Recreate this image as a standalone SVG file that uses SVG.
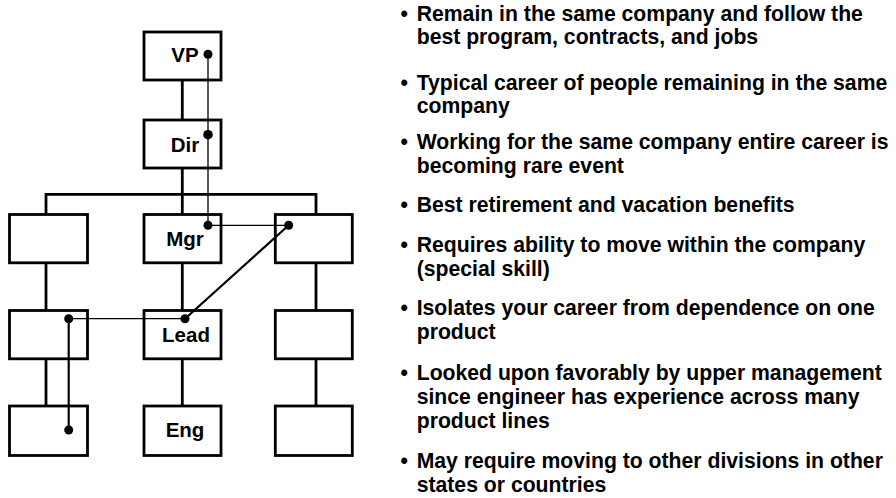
<svg xmlns="http://www.w3.org/2000/svg" width="896" height="498" viewBox="0 0 896 498">
  <style>
    .box { fill: #fff; stroke: #000; stroke-width: 2.8; }
    .tree { fill: none; stroke: #000; stroke-width: 2.8; }
    .path-thin { fill: none; stroke: #000; stroke-width: 1.3; }
    .path-bold { fill: none; stroke: #000; stroke-width: 2.2; }
    .dot { fill: #000; }
    .lbl { font-family: "Liberation Sans", Arial, sans-serif; font-weight: bold; font-size: 20.5px; fill: #000; text-anchor: middle; }
    .bul { font-family: "Liberation Sans", Arial, sans-serif; font-weight: bold; font-size: 21.2px; fill: #000; }
  </style>

  <!-- org chart tree lines -->
  <g id="connectors">
    <line class="tree" x1="182.3" y1="80" x2="182.3" y2="120"/>
    <line class="tree" x1="182.3" y1="168" x2="182.3" y2="214.5"/>
    <polyline class="tree" points="46,214.5 46,194.3 316,194.3 316,214.5"/>
    <line class="tree" x1="46" y1="262.8" x2="46" y2="310.5"/>
    <line class="tree" x1="182.3" y1="262.8" x2="182.3" y2="310.5"/>
    <line class="tree" x1="316" y1="262.8" x2="316" y2="310.5"/>
    <line class="tree" x1="46" y1="358.8" x2="46" y2="406"/>
    <line class="tree" x1="182.3" y1="358.8" x2="182.3" y2="406"/>
    <line class="tree" x1="316" y1="358.8" x2="316" y2="406"/>
  </g>

  <!-- positions -->
  <g id="vp"><rect class="box" x="144" y="32" width="77" height="48"/><text class="lbl" x="185" y="62">VP</text></g>
  <g id="dir"><rect class="box" x="144" y="120" width="77" height="48"/><text class="lbl" x="185" y="152">Dir</text></g>
  <g id="r2-left"><rect class="box" x="9.5" y="214.5" width="78" height="48.3"/></g>
  <g id="mgr"><rect class="box" x="144" y="214.5" width="77" height="48.3"/><text class="lbl" x="185" y="246">Mgr</text></g>
  <g id="r2-right"><rect class="box" x="275.3" y="214.5" width="77" height="48.3"/></g>
  <g id="r3-left"><rect class="box" x="9.5" y="310.5" width="78" height="48.3"/></g>
  <g id="lead"><rect class="box" x="144" y="310.5" width="77" height="48.3"/><text class="lbl" x="186" y="342">Lead</text></g>
  <g id="r3-right"><rect class="box" x="275.3" y="310.5" width="77" height="48.3"/></g>
  <g id="r4-left"><rect class="box" x="9.5" y="406" width="78" height="49.5"/></g>
  <g id="eng"><rect class="box" x="144" y="406" width="77" height="49.5"/><text class="lbl" x="185" y="437">Eng</text></g>
  <g id="r4-right"><rect class="box" x="275.3" y="406" width="77" height="49.5"/></g>

  <!-- career path across the company -->
  <g id="career-path">
    <polyline class="path-thin" points="208,54.3 208,225.3 288.7,225.3"/>
    <line class="path-bold" x1="288.7" y1="225.3" x2="185" y2="318.7"/>
    <line class="path-thin" x1="185" y1="318.7" x2="68.7" y2="318.7"/>
    <line class="path-bold" x1="68.7" y1="318.7" x2="68.7" y2="430"/>
    <circle class="dot" cx="208" cy="54.3" r="4.5"/>
    <circle class="dot" cx="208" cy="134.7" r="4.8"/>
    <circle class="dot" cx="208" cy="225.3" r="4.5"/>
    <circle class="dot" cx="288.7" cy="225.3" r="4.5"/>
    <circle class="dot" cx="185" cy="318.7" r="4.5"/>
    <circle class="dot" cx="68.7" cy="318.7" r="4.5"/>
    <circle class="dot" cx="68.7" cy="430" r="4.5"/>
  </g>

  <!-- bullet list -->
  <g id="notes" class="bul">
    <text><tspan x="400.5" y="20.5">•</tspan><tspan x="416.7" y="20.5">Remain in the same company and follow the</tspan><tspan x="416.7" y="44">best program, contracts, and jobs</tspan></text>
    <text><tspan x="400.5" y="90">•</tspan><tspan x="416.7" y="90">Typical career of people remaining in the same</tspan><tspan x="416.7" y="113">company</tspan></text>
    <text><tspan x="400.5" y="149">•</tspan><tspan x="416.7" y="149">Working for the same company entire career is</tspan><tspan x="416.7" y="173">becoming rare event</tspan></text>
    <text><tspan x="400.5" y="212">•</tspan><tspan x="416.7" y="212">Best retirement and vacation benefits</tspan></text>
    <text><tspan x="400.5" y="252">•</tspan><tspan x="416.7" y="252">Requires ability to move within the company</tspan><tspan x="416.7" y="276">(special skill)</tspan></text>
    <text><tspan x="400.5" y="315">•</tspan><tspan x="416.7" y="315">Isolates your career from dependence on one</tspan><tspan x="416.7" y="338.5">product</tspan></text>
    <text><tspan x="400.5" y="380">•</tspan><tspan x="416.7" y="380">Looked upon favorably by upper management</tspan><tspan x="416.7" y="404">since engineer has experience across many</tspan><tspan x="416.7" y="428">product lines</tspan></text>
    <text><tspan x="400.5" y="468">•</tspan><tspan x="416.7" y="468">May require moving to other divisions in other</tspan><tspan x="416.7" y="492">states or countries</tspan></text>
  </g>
</svg>
